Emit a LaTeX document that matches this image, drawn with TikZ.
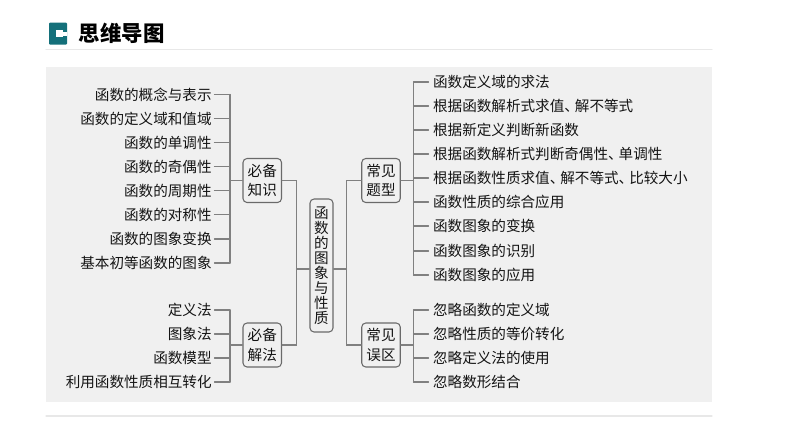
\documentclass[tikz,border=0pt]{standalone}
\usepackage{fontspec}
\setmainfont{Noto Sans CJK SC}
\usetikzlibrary{positioning}
\newcommand{\dunhao}{、\kern-0.08cm}

\begin{document}
\begin{tikzpicture}
[x=0.02cm,y=-0.02cm,line cap=round,
% Styles
branch/.style={draw=branchcolor,line width=0.6pt},
left leaf/.style={anchor=east,inner xsep=0.05cm,inner ysep=0pt,text=textcolor,font=\fontsize{8.3}{10}\selectfont},
right leaf/.style={anchor=west,inner xsep=0.085cm,inner ysep=0pt,text=textcolor,font=\fontsize{8.3}{10}\selectfont},
topic box/.style={draw=boxcolor,line width=0.6pt,rounded corners=0.08cm,fill=panelcolor,align=center,
  minimum width=0.77cm,minimum height=0.88cm,inner sep=0pt,text=textcolor,font=\fontsize{8.3}{11.1}\selectfont},
root box/.style={topic box,minimum width=0.46cm,minimum height=2.66cm,font=\fontsize{8.3}{8.5}\selectfont}]
% Colors
\colorlet{panelcolor}{black!6}
\definecolor{branchcolor}{HTML}{808080}
\definecolor{boxcolor}{HTML}{6A6A6A}
\definecolor{textcolor}{HTML}{141414}
\definecolor{iconcolor}{HTML}{14707A}
\definecolor{rulecolor}{HTML}{E8E8E8}
\useasboundingbox (0,0) rectangle (794,447);
% The frame
\fill[panelcolor] (46,66.5) rectangle (712,402);
\draw[rulecolor,line width=0.6pt] (46,49.5) -- (712,49.5);
\draw[rulecolor,line width=0.6pt] (46,416) -- (712,416);
\fill[iconcolor,rounded corners=0.02cm] (49,22.5) rectangle (67,44.5);
\fill[white] (56,30) rectangle (63,37);
\fill[white] (63,31.5) rectangle (67,35.5);
\node[anchor=west,inner sep=0pt,text=black,font=\fontsize{12.2}{14}\selectfont\bfseries] (title) at (78.5,33.5) {思维导图};
% The boxes
\node[root box] (root) at (321.5,265.5) {函\\数\\的\\图\\象\\与\\性\\质};
\node[topic box] (know) at (262.25,180.5) {必备\\知识};
\node[topic box] (method) at (262.25,345) {必备\\解法};
\node[topic box] (type) at (381,180.5) {常见\\题型};
\node[topic box] (error) at (381,345) {常见\\误区};
% The buses
\coordinate (left bus) at (296.5,269);
\coordinate (right bus) at (346.5,269);
\coordinate (know bus) at (230,180.5);
\coordinate (method bus) at (230,345);
\coordinate (type bus) at (413.5,180.5);
\coordinate (error bus) at (413.5,345);
\draw[branch] (know.east) -| (left bus);
\draw[branch] (method.east) -| (left bus);
\draw[branch] (left bus) -- (left bus -| root.west);
\draw[branch] (right bus -| root.east) -- (right bus);
\draw[branch] (type.west) -| (right bus);
\draw[branch] (error.west) -| (right bus);
% The leaves
\foreach \y/\ytext [count=\i] in {94.5/函数的概念与表示,118.5/函数的定义域和值域,142.5/函数的单调性,166.5/函数的奇偶性,190.5/函数的周期性,214.5/函数的对称性,239/函数的图象变换,263/基本初等函数的图象}
{
\node[left leaf] (know leaf \i) at (214.5,\y) {\ytext};
\draw[branch] (know leaf \i.east) -- (know leaf \i.east -| know bus);
}
\draw[branch] (know.west) -- (know bus);
\draw[branch] (know leaf 1.east -| know bus) -- (know leaf 8.east -| know bus);
\foreach \y/\ytext [count=\i] in {310/定义法,334/图象法,358/函数模型,382/利用函数性质相互转化}
{
\node[left leaf] (method leaf \i) at (214.5,\y) {\ytext};
\draw[branch] (method leaf \i.east) -- (method leaf \i.east -| method bus);
}
\draw[branch] (method.west) -- (method bus);
\draw[branch] (method leaf 1.east -| method bus) -- (method leaf 4.east -| method bus);
\foreach \y/\ytext [count=\i] in {82/函数定义域的求法,106/根据函数解析式求值\dunhao 解不等式,130/根据新定义判断新函数,154/根据函数解析式判断奇偶性\dunhao 单调性,178/根据函数性质求值\dunhao 解不等式\dunhao 比较大小,202/函数性质的综合应用,226/函数图象的变换,251/函数图象的识别,275/函数图象的应用}
{
\node[right leaf] (type leaf \i) at (428.5,\y) {\ytext};
\draw[branch] (type leaf \i.west) -- (type leaf \i.west -| type bus);
}
\draw[branch] (type.east) -- (type bus);
\draw[branch] (type leaf 1.west -| type bus) -- (type leaf 9.west -| type bus);
\foreach \y/\ytext [count=\i] in {310/忽略函数的定义域,334/忽略性质的等价转化,358/忽略定义法的使用,382/忽略数形结合}
{
\node[right leaf] (error leaf \i) at (428.5,\y) {\ytext};
\draw[branch] (error leaf \i.west) -- (error leaf \i.west -| error bus);
}
\draw[branch] (error.east) -- (error bus);
\draw[branch] (error leaf 1.west -| error bus) -- (error leaf 4.west -| error bus);
\end{tikzpicture}
\end{document}
